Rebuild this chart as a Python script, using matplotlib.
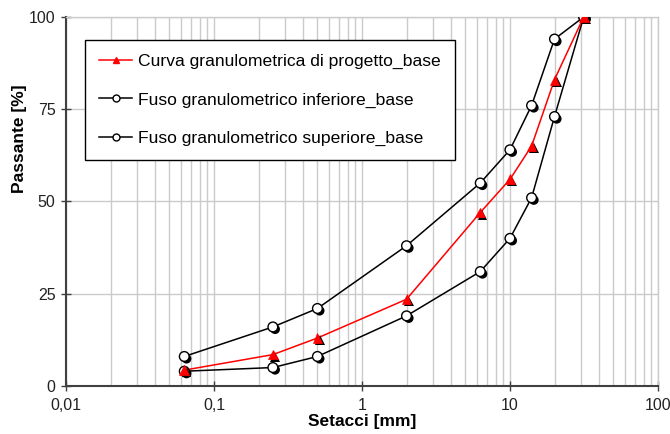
import matplotlib
matplotlib.use("Agg")
import matplotlib.pyplot as plt
import matplotlib.patheffects as pe
from matplotlib.lines import Line2D
from matplotlib.ticker import FixedLocator, FuncFormatter, LogLocator, NullFormatter

plt.rcParams['font.family'] = ['Liberation Sans', 'DejaVu Sans']

sieves = [0.063, 0.25, 0.5, 2, 6.3, 10, 14, 20, 31.5]
progetto = [4.3, 8.5, 13, 23.5, 47, 56, 65, 83, 100]
inferiore = [4, 5, 8, 19, 31, 40, 51, 73, 100]
superiore = [8, 16, 21, 38, 55, 64, 76, 94, 100]

labels = ["Curva granulometrica di progetto_base",
          "Fuso granulometrico inferiore_base",
          "Fuso granulometrico superiore_base"]

fig = plt.figure(figsize=(6.7, 4.34), dpi=100)
ax = fig.add_axes([0.0985, 0.1106, 0.8835, 0.8504])
ax.set_xscale('log')
ax.set_xlim(0.01, 100)
ax.set_ylim(0, 100)

shadow = [pe.SimplePatchShadow(offset=(1.6, -1.6), shadow_rgbFace='black', alpha=1.0), pe.Normal()]

for ys, col in [(inferiore, 'black'), (superiore, 'black')]:
    ax.plot(sieves, ys, color=col, lw=1.1, zorder=3)
    ax.plot(sieves, ys, ls='none', marker='o', ms=7, mfc='white', mec='black', mew=1.0,
            zorder=4, path_effects=shadow)
ax.plot(sieves, progetto, color='red', lw=1.1, zorder=3)
ax.plot(sieves, progetto, ls='none', marker='^', ms=7, mfc='red', mec='red', mew=0.5,
        zorder=5, path_effects=shadow)

ax.xaxis.set_major_locator(FixedLocator([0.01, 0.1, 1, 10, 100]))
ax.xaxis.set_minor_locator(LogLocator(base=10, subs=range(2, 10), numticks=20))
ax.xaxis.set_minor_formatter(NullFormatter())
ax.xaxis.set_major_formatter(FuncFormatter(lambda v, p: {0.01: '0,01', 0.1: '0,1', 1: '1', 10: '10', 100: '100'}.get(round(v, 4), '')))
ax.set_yticks([0, 25, 50, 75, 100])

ax.grid(True, which='major', color='#cbcbcb', lw=1.0)
ax.grid(True, which='minor', axis='x', color='#cbcbcb', lw=1.0)
ax.set_axisbelow(True)

for s in ['top', 'right']:
    ax.spines[s].set_color('#cbcbcb')
    ax.spines[s].set_linewidth(1.0)
for s in ['left', 'bottom']:
    ax.spines[s].set_color('#404040')
    ax.spines[s].set_linewidth(1.5)

ax.tick_params(axis='both', which='major', direction='inout', length=7, width=1.0, color='#404040',
               labelsize=11.5, labelcolor='#222222')
ax.tick_params(axis='x', which='minor', length=0)
ax.tick_params(axis='x', pad=5)
ax.tick_params(axis='y', pad=4)

ax.set_xlabel('Setacci [mm]', fontsize=12.5, fontweight='bold', labelpad=1)
ax.set_ylabel('Passante [%]', fontsize=12.5, fontweight='bold', va='center')
ax.yaxis.set_label_coords(-0.078, 0.67)

handles = [Line2D([], [], color='red', lw=1.1, marker='^', ms=5, mfc='red', mec='red'),
           Line2D([], [], color='black', lw=1.1, marker='o', ms=5, mfc='white', mec='black'),
           Line2D([], [], color='black', lw=1.1, marker='o', ms=5, mfc='white', mec='black')]
leg = ax.legend(handles, labels, loc='upper left', bbox_to_anchor=(0.032, 0.938), borderaxespad=0,
                fontsize=12.6, frameon=True, fancybox=False, edgecolor='black', framealpha=1,
                labelspacing=1.31, handlelength=1.9, handletextpad=0.35, borderpad=0.8)
leg.get_frame().set_linewidth(1.0)

fig.savefig('out.png', dpi=100)
